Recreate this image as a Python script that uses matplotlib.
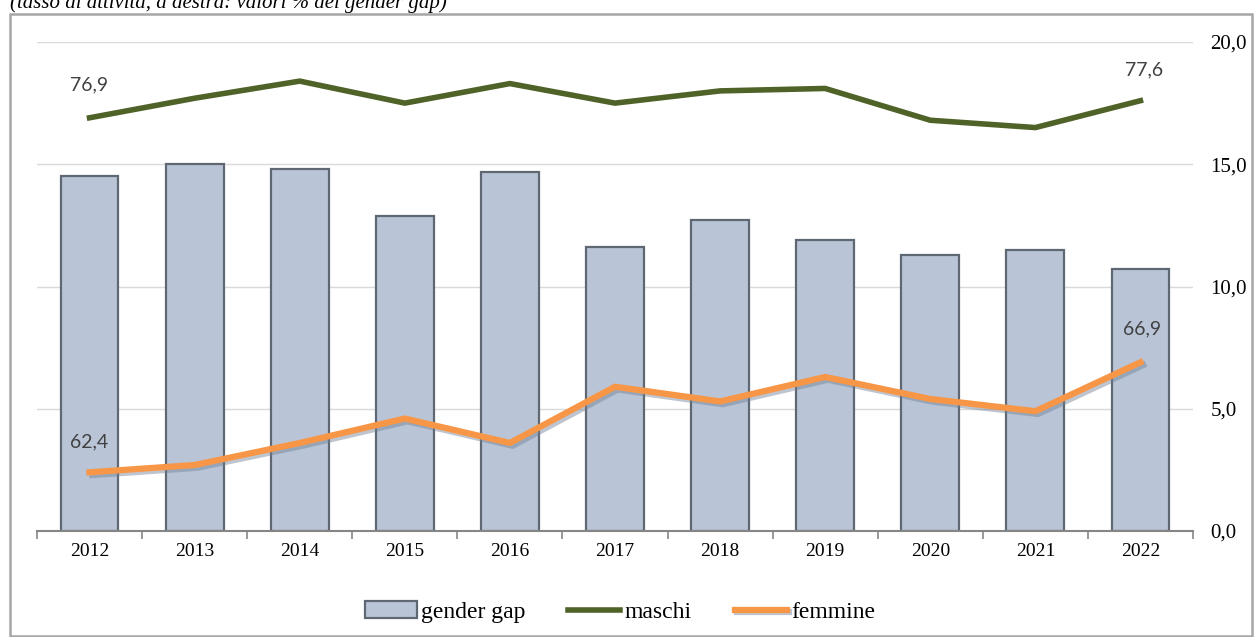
import matplotlib.pyplot as plt
import matplotlib.patheffects as pe
from matplotlib.patches import Rectangle
import numpy as np

anni = ['2012', '2013', '2014', '2015', '2016', '2017', '2018', '2019', '2020', '2021', '2022']
gender_gap = [14.5, 15.0, 14.8, 12.9, 14.7, 11.6, 12.7, 11.9, 11.3, 11.5, 10.7]
maschi = [76.9, 77.7, 78.4, 77.5, 78.3, 77.5, 78.0, 78.1, 76.8, 76.5, 77.6]
femmine = [62.4, 62.7, 63.6, 64.6, 63.6, 65.9, 65.3, 66.3, 65.4, 64.9, 66.9]

serif = 'Liberation Serif'
sans = 'Lato'

fig = plt.figure(figsize=(12.57, 6.37), dpi=100)
rect = [37 / 1257, 1 - 531 / 637, (1193 - 37) / 1257, (531 - 42) / 637]
ax = fig.add_axes(rect)

x = np.arange(len(anni))
bars = ax.bar(x, gender_gap, width=0.55, color='#b9c5d7', edgecolor='#5f6772',
              linewidth=1.6, label='gender gap', zorder=2)
ax.set_xlim(-0.5, len(anni) - 0.5)
ax.set_ylim(0, 20)
ax.set_yticks([0, 5, 10, 15, 20])
ax.set_yticklabels(['0,0', '5,0', '10,0', '15,0', '20,0'], fontfamily=serif, fontsize=15)
ax.tick_params(axis='y', which='both', left=False, right=False, labelleft=False,
               labelright=True, pad=9)
ax.grid(axis='y', color='#d9d9d9', linewidth=1, zorder=0)
ax.set_axisbelow(True)

ax.set_xticks(x)
ax.set_xticklabels(anni, fontfamily=serif, fontsize=14)
ax.set_xticks(np.arange(-0.5, len(anni)), minor=True)
ax.tick_params(axis='x', which='major', length=0, pad=9)
ax.tick_params(axis='x', which='minor', length=6, color='#868686', width=1.2, direction='out')
ax.spines['top'].set_visible(False)
ax.spines['left'].set_visible(False)
ax.spines['right'].set_visible(False)
ax.spines['bottom'].set_color('#868686')
ax.spines['bottom'].set_linewidth(1.5)

# tassi di attività su un asse nascosto (60-80)
ax2 = fig.add_axes(rect)
ax2.set_xlim(-0.5, len(anni) - 0.5)
ax2.set_ylim(60, 80)
ax2.axis('off')

l1, = ax2.plot(x, maschi, color='#4f6228', linewidth=4, label='maschi')
l2, = ax2.plot(x, femmine, color='#f79646', linewidth=4.5, label='femmine',
               path_effects=[pe.SimpleLineShadow(offset=(2, -2), shadow_color='#6f7f96', alpha=0.45),
                             pe.Normal()])

lab = dict(fontfamily=sans, fontsize=14, color='#404040', ha='center', va='center')
ax2.annotate('76,9', (x[0], maschi[0]), xytext=(0, 33), textcoords='offset pixels', **lab)
ax2.annotate('77,6', (x[-1], maschi[-1]), xytext=(4, 31), textcoords='offset pixels', **lab)
ax2.annotate('62,4', (x[0], femmine[0]), xytext=(0, 30), textcoords='offset pixels', **lab)
ax2.annotate('66,9', (x[-1], femmine[-1]), xytext=(2, 33), textcoords='offset pixels', **lab)

fig.legend(handles=[bars, l1, l2], loc='center', bbox_to_anchor=(620 / 1257, 1 - 612 / 637),
           ncol=3, frameon=False, prop={'family': serif, 'size': 17},
           handlelength=2.2, handletextpad=0.2, columnspacing=1.8)

fig.text(10 / 1257, 1 - 8 / 637, '(tasso di attività, a destra: valori % del gender gap)',
         fontfamily=serif, fontstyle='italic', fontsize=15, va='baseline', ha='left')

fig.patches.append(Rectangle((10 / 1257, 1 / 637), 1242 / 1257, 622 / 637, transform=fig.transFigure,
                             fill=False, edgecolor='#a6a6a6', linewidth=1.8))

fig.savefig('out.png', dpi=100)
